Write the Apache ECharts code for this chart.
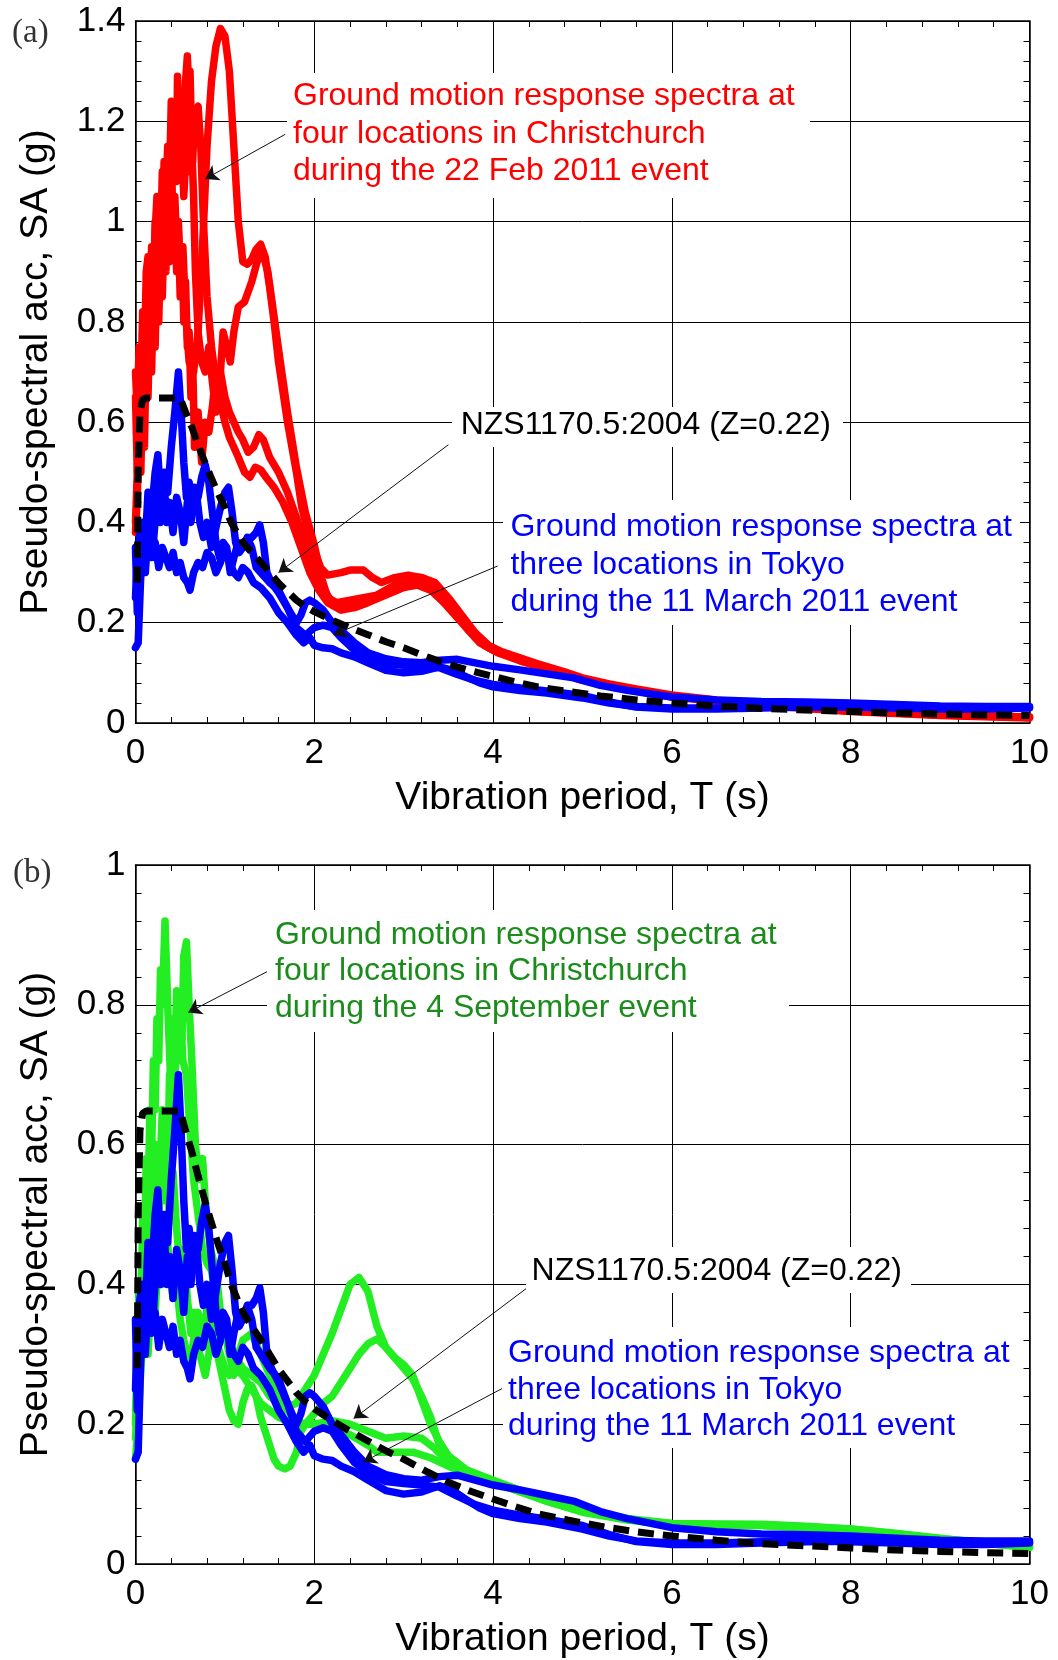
<!DOCTYPE html>
<html><head><meta charset="utf-8">
<script src="https://cdn.jsdelivr.net/npm/echarts@6/dist/echarts.min.js"></script>
<style>html,body{margin:0;padding:0;background:#fff}#c{width:1058px;height:1660px}</style>
</head><body><div id="c"></div>
<script>
// ---------- data: [period T (s), SA (g)] ----------
const xTicks = [0, 2, 4, 6, 8, 10];
const yTicksA = [0, 0.2, 0.4, 0.6, 0.8, 1, 1.2, 1.4];
const yTicksB = [0, 0.2, 0.4, 0.6, 0.8, 1];

const nzs = [[0.02,0.28],[0.03,0.5],[0.05,0.62],[0.08,0.645],[0.12,0.648],[0.5,0.648],[0.56,0.62],[0.63,0.59],[0.7,0.555],[0.78,0.518],[0.85,0.488],[0.92,0.459],[1.0,0.43],[1.07,0.40],[1.15,0.375],[1.22,0.356],[1.3,0.34],[1.41,0.319],[1.5,0.3],[1.6,0.279],[1.7,0.262],[1.8,0.245],[1.9,0.232],[2.0,0.222],[2.2,0.205],[2.4,0.19],[2.6,0.176],[2.8,0.162],[3.0,0.15],[3.26,0.132],[3.5,0.117],[3.75,0.104],[4.0,0.093],[4.25,0.082],[4.5,0.072],[4.83,0.063],[5.2,0.054],[5.6,0.046],[6,0.04],[6.5,0.034],[7,0.029],[7.5,0.026],[8,0.023],[8.5,0.02],[9,0.018],[9.5,0.016],[10,0.015]];

const chch2011a = [[0,0.40],[0.02,0.5],[0.04,0.62],[0.06,0.55],[0.08,0.72],[0.1,0.65],[0.12,0.85],[0.14,0.78],[0.16,0.92],[0.18,0.8],[0.2,0.95],[0.22,0.85],[0.24,1.0],[0.26,0.88],[0.28,1.05],[0.3,0.95],[0.32,1.08],[0.34,0.98],[0.36,1.1],[0.38,1.02],[0.4,1.12],[0.42,1.0],[0.44,1.05],[0.46,0.95],[0.48,1.0],[0.5,0.9],[0.53,0.95],[0.56,0.82],[0.6,0.72],[0.65,0.7],[0.7,0.78],[0.75,0.95],[0.8,1.15],[0.85,1.28],[0.9,1.35],[0.95,1.385],[1.0,1.37],[1.05,1.3],[1.1,1.15],[1.15,1.0],[1.2,0.92],[1.25,0.915],[1.3,0.925],[1.35,0.945],[1.4,0.955],[1.45,0.93],[1.5,0.87],[1.55,0.8],[1.6,0.72],[1.7,0.6],[1.8,0.5],[1.86,0.43],[1.93,0.38],[2.0,0.345],[2.07,0.31],[2.15,0.295],[2.3,0.3],[2.4,0.305],[2.55,0.305],[2.65,0.29],[2.75,0.28],[2.9,0.29],[3.05,0.295],[3.2,0.29],[3.35,0.28],[3.5,0.25],[3.65,0.215],[3.8,0.18],[3.95,0.155],[4.1,0.142],[4.3,0.13],[4.5,0.118],[4.8,0.102],[5.0,0.09],[5.3,0.078],[5.6,0.068],[6.0,0.056],[6.5,0.046],[7.0,0.038],[7.5,0.031],[8.0,0.025],[8.5,0.02],[9.0,0.017],[9.5,0.014],[10,0.012]];
const chch2011b = [[0,0.70],[0.02,0.62],[0.04,0.75],[0.06,0.62],[0.08,0.8],[0.1,0.72],[0.12,0.9],[0.14,0.93],[0.16,0.8],[0.18,0.88],[0.2,0.82],[0.22,0.98],[0.24,1.05],[0.26,0.95],[0.28,1.02],[0.3,0.98],[0.32,1.12],[0.34,1.05],[0.36,1.15],[0.38,1.08],[0.4,1.24],[0.42,1.15],[0.44,1.2],[0.46,1.12],[0.47,1.29],[0.49,1.18],[0.51,1.22],[0.53,1.1],[0.55,1.2],[0.56,1.28],[0.58,1.33],[0.6,1.25],[0.61,1.3],[0.63,1.15],[0.65,1.05],[0.67,0.9],[0.7,0.78],[0.74,0.72],[0.78,0.7],[0.82,0.75],[0.86,0.68],[0.9,0.62],[0.95,0.7],[0.98,0.78],[1.02,0.75],[1.06,0.72],[1.1,0.78],[1.15,0.83],[1.22,0.84],[1.3,0.88],[1.36,0.92],[1.42,0.94],[1.48,0.9],[1.55,0.81],[1.62,0.72],[1.7,0.62],[1.8,0.51],[1.9,0.42],[2.0,0.355],[2.08,0.29],[2.15,0.25],[2.25,0.24],[2.4,0.245],[2.55,0.25],[2.7,0.255],[2.9,0.275],[3.05,0.29],[3.2,0.29],[3.35,0.275],[3.5,0.245],[3.65,0.205],[3.8,0.17],[3.95,0.15],[4.2,0.134],[4.5,0.115],[4.8,0.1],[5.0,0.088],[5.5,0.068],[6.0,0.054],[6.5,0.045],[7,0.036],[8,0.024],[9,0.016],[10,0.011]];
const chch2011c = [[0,0.65],[0.02,0.5],[0.04,0.68],[0.06,0.6],[0.08,0.82],[0.1,0.75],[0.12,0.72],[0.14,0.88],[0.16,0.8],[0.18,0.95],[0.2,0.85],[0.22,1.0],[0.24,0.92],[0.26,1.05],[0.28,0.95],[0.3,1.1],[0.32,1.02],[0.34,1.08],[0.36,0.98],[0.38,1.15],[0.4,1.05],[0.42,1.2],[0.44,1.12],[0.46,1.08],[0.48,1.18],[0.5,1.1],[0.52,1.15],[0.54,1.05],[0.56,1.12],[0.58,1.18],[0.6,1.1],[0.62,1.16],[0.64,1.12],[0.66,1.22],[0.7,1.23],[0.73,1.15],[0.76,1.0],[0.8,0.85],[0.85,0.75],[0.9,0.68],[0.95,0.7],[1.0,0.65],[1.05,0.62],[1.1,0.6],[1.15,0.58],[1.2,0.565],[1.26,0.54],[1.32,0.55],[1.38,0.575],[1.43,0.565],[1.5,0.53],[1.6,0.5],[1.7,0.46],[1.8,0.41],[1.9,0.36],[2.0,0.31],[2.08,0.275],[2.2,0.24],[2.35,0.23],[2.5,0.235],[2.7,0.25],[2.9,0.265],[3.1,0.28],[3.25,0.275],[3.4,0.26],[3.55,0.23],[3.7,0.19],[3.85,0.16],[4.0,0.145],[4.3,0.125],[4.6,0.108],[5.0,0.085],[5.5,0.066],[6,0.052],[7,0.035],[8,0.023],[9,0.015],[10,0.01]];
const chch2011d = [[0,0.38],[0.02,0.45],[0.04,0.6],[0.06,0.5],[0.08,0.68],[0.1,0.55],[0.12,0.75],[0.14,0.65],[0.16,0.8],[0.18,0.7],[0.2,0.85],[0.22,0.75],[0.24,0.92],[0.26,0.8],[0.28,0.95],[0.3,0.85],[0.32,1.0],[0.34,0.9],[0.36,1.05],[0.38,0.92],[0.4,1.08],[0.42,0.95],[0.44,1.02],[0.46,0.9],[0.48,0.98],[0.5,0.85],[0.52,0.95],[0.54,0.8],[0.56,0.88],[0.58,0.75],[0.6,0.78],[0.62,0.65],[0.64,0.72],[0.66,0.55],[0.7,0.62],[0.74,0.52],[0.78,0.6],[0.82,0.58],[0.86,0.63],[0.9,0.7],[0.95,0.64],[1.0,0.6],[1.05,0.57],[1.1,0.55],[1.15,0.53],[1.22,0.5],[1.28,0.49],[1.34,0.51],[1.4,0.505],[1.46,0.49],[1.55,0.47],[1.65,0.44],[1.75,0.4],[1.85,0.35],[1.95,0.3],[2.05,0.265],[2.15,0.24],[2.3,0.225],[2.45,0.23],[2.6,0.24],[2.8,0.255],[3.0,0.27],[3.15,0.275],[3.3,0.265],[3.45,0.24],[3.6,0.21],[3.75,0.18],[3.9,0.155],[4.05,0.14],[4.3,0.124],[4.6,0.108],[5,0.088],[5.5,0.067],[6,0.053],[7,0.036],[8,0.024],[9,0.016],[10,0.012]];

const tokyoA = [[0,0.15],[0.03,0.16],[0.06,0.3],[0.09,0.38],[0.12,0.33],[0.16,0.42],[0.2,0.36],[0.24,0.45],[0.28,0.4],[0.32,0.5],[0.36,0.46],[0.4,0.55],[0.44,0.62],[0.48,0.70],[0.51,0.62],[0.54,0.52],[0.57,0.45],[0.6,0.48],[0.64,0.42],[0.68,0.46],[0.72,0.4],[0.76,0.37],[0.8,0.4],[0.85,0.35],[0.9,0.39],[0.95,0.43],[1.0,0.46],[1.04,0.47],[1.08,0.42],[1.12,0.36],[1.16,0.34],[1.2,0.35],[1.25,0.37],[1.3,0.35],[1.35,0.31],[1.4,0.3],[1.5,0.28],[1.6,0.265],[1.7,0.23],[1.8,0.2],[1.85,0.215],[1.9,0.24],[1.95,0.245],[2.0,0.24],[2.1,0.225],[2.2,0.2],[2.3,0.185],[2.45,0.16],[2.6,0.14],[2.8,0.128],[3.0,0.122],[3.2,0.12],[3.4,0.125],[3.6,0.127],[3.8,0.12],[4.0,0.113],[4.3,0.106],[4.6,0.098],[4.9,0.09],[5.2,0.075],[5.5,0.065],[6.0,0.052],[6.5,0.046],[7,0.043],[7.5,0.042],[8,0.04],[8.5,0.037],[9,0.034],[9.5,0.033],[10,0.033]];
const tokyoB = [[0,0.25],[0.02,0.33],[0.05,0.38],[0.08,0.4],[0.11,0.36],[0.14,0.46],[0.18,0.42],[0.22,0.5],[0.25,0.535],[0.28,0.45],[0.32,0.48],[0.35,0.4],[0.38,0.44],[0.42,0.38],[0.46,0.45],[0.5,0.42],[0.54,0.36],[0.58,0.44],[0.62,0.4],[0.66,0.47],[0.7,0.45],[0.74,0.49],[0.78,0.515],[0.82,0.48],[0.86,0.42],[0.9,0.36],[0.94,0.33],[0.98,0.36],[1.02,0.35],[1.06,0.3],[1.1,0.33],[1.15,0.36],[1.2,0.35],[1.26,0.37],[1.3,0.37],[1.35,0.38],[1.39,0.395],[1.43,0.36],[1.47,0.3],[1.52,0.28],[1.6,0.26],[1.7,0.23],[1.8,0.19],[1.9,0.175],[2.0,0.19],[2.1,0.195],[2.2,0.19],[2.3,0.17],[2.45,0.145],[2.6,0.13],[2.8,0.118],[3.0,0.115],[3.2,0.113],[3.4,0.11],[3.6,0.097],[3.8,0.085],[4.0,0.077],[4.3,0.07],[4.6,0.064],[5.0,0.055],[5.3,0.042],[5.6,0.032],[6.0,0.028],[6.5,0.028],[7,0.03],[7.5,0.032],[8,0.033],[8.5,0.031],[9,0.03],[9.5,0.03],[10,0.031]];
const tokyoC = [[0,0.35],[0.02,0.22],[0.05,0.28],[0.08,0.35],[0.11,0.3],[0.14,0.38],[0.18,0.33],[0.22,0.36],[0.26,0.31],[0.3,0.35],[0.34,0.33],[0.38,0.31],[0.42,0.34],[0.46,0.3],[0.5,0.32],[0.54,0.29],[0.58,0.28],[0.61,0.265],[0.65,0.3],[0.7,0.32],[0.75,0.31],[0.8,0.34],[0.85,0.33],[0.9,0.3],[0.95,0.32],[1.0,0.35],[1.05,0.32],[1.1,0.3],[1.15,0.29],[1.2,0.31],[1.26,0.3],[1.32,0.28],[1.4,0.27],[1.5,0.25],[1.6,0.22],[1.7,0.2],[1.8,0.175],[1.88,0.16],[1.95,0.17],[2.0,0.155],[2.1,0.15],[2.2,0.148],[2.3,0.14],[2.45,0.132],[2.6,0.12],[2.8,0.105],[3.0,0.1],[3.2,0.103],[3.4,0.112],[3.55,0.105],[3.7,0.092],[3.85,0.08],[4.0,0.072],[4.3,0.065],[4.6,0.06],[5.0,0.05],[5.3,0.04],[5.6,0.033],[6.0,0.03],[6.5,0.03],[7,0.032],[7.5,0.033],[8,0.032],[8.5,0.03],[9,0.028],[9.5,0.028],[10,0.03]];

const chch2010a = [[0,0.2],[0.02,0.28],[0.04,0.4],[0.06,0.35],[0.08,0.5],[0.1,0.45],[0.12,0.58],[0.14,0.5],[0.16,0.65],[0.18,0.58],[0.2,0.72],[0.22,0.65],[0.24,0.78],[0.26,0.72],[0.28,0.85],[0.3,0.8],[0.33,0.92],[0.36,0.8],[0.39,0.7],[0.42,0.78],[0.44,0.72],[0.46,0.82],[0.48,0.76],[0.5,0.8],[0.53,0.72],[0.57,0.7],[0.61,0.62],[0.65,0.55],[0.7,0.5],[0.75,0.45],[0.8,0.43],[0.85,0.42],[0.9,0.38],[0.95,0.35],[1.0,0.34],[1.05,0.32],[1.1,0.3],[1.2,0.28],[1.3,0.27],[1.4,0.26],[1.5,0.24],[1.6,0.23],[1.7,0.225],[1.8,0.23],[1.9,0.25],[2.0,0.27],[2.1,0.3],[2.2,0.33],[2.3,0.365],[2.4,0.4],[2.5,0.41],[2.6,0.39],[2.7,0.34],[2.8,0.31],[2.9,0.295],[3.0,0.285],[3.1,0.27],[3.2,0.235],[3.3,0.2],[3.4,0.175],[3.5,0.155],[3.7,0.135],[3.9,0.125],[4.2,0.11],[4.6,0.09],[5.0,0.075],[5.5,0.064],[6,0.058],[6.5,0.057],[7,0.057],[7.5,0.054],[8,0.05],[8.5,0.044],[9,0.037],[9.5,0.03],[10,0.025]];
const chch2010b = [[0,0.18],[0.03,0.25],[0.06,0.35],[0.1,0.42],[0.14,0.38],[0.18,0.48],[0.22,0.55],[0.26,0.5],[0.3,0.6],[0.32,0.52],[0.34,0.62],[0.36,0.55],[0.38,0.7],[0.4,0.65],[0.42,0.75],[0.44,0.68],[0.46,0.78],[0.48,0.72],[0.5,0.8],[0.52,0.75],[0.54,0.87],[0.57,0.89],[0.6,0.8],[0.63,0.72],[0.67,0.6],[0.71,0.55],[0.75,0.58],[0.79,0.5],[0.84,0.45],[0.9,0.42],[0.95,0.36],[1.0,0.33],[1.05,0.3],[1.1,0.27],[1.15,0.3],[1.2,0.32],[1.3,0.33],[1.4,0.3],[1.5,0.27],[1.6,0.24],[1.7,0.22],[1.8,0.205],[1.9,0.2],[2.0,0.215],[2.1,0.23],[2.2,0.24],[2.35,0.27],[2.5,0.3],[2.6,0.315],[2.7,0.322],[2.8,0.31],[2.9,0.295],[3.0,0.28],[3.1,0.265],[3.2,0.24],[3.3,0.21],[3.4,0.17],[3.5,0.15],[3.7,0.132],[3.9,0.122],[4.2,0.108],[4.6,0.09],[5,0.074],[5.5,0.063],[6,0.056],[7,0.055],[8,0.048],[9,0.035],[10,0.024]];
const chch2010c = [[0,0.22],[0.03,0.3],[0.06,0.4],[0.1,0.48],[0.14,0.45],[0.18,0.55],[0.22,0.6],[0.26,0.52],[0.3,0.65],[0.34,0.58],[0.38,0.5],[0.42,0.56],[0.46,0.48],[0.5,0.42],[0.54,0.45],[0.58,0.38],[0.62,0.33],[0.66,0.36],[0.7,0.31],[0.74,0.29],[0.78,0.27],[0.82,0.3],[0.86,0.34],[0.9,0.31],[0.95,0.28],[1.0,0.25],[1.05,0.22],[1.1,0.205],[1.15,0.2],[1.2,0.23],[1.25,0.25],[1.3,0.255],[1.35,0.24],[1.4,0.21],[1.45,0.19],[1.5,0.17],[1.55,0.15],[1.6,0.14],[1.67,0.136],[1.73,0.14],[1.8,0.16],[1.85,0.19],[1.9,0.2],[2.0,0.2],[2.2,0.205],[2.4,0.2],[2.6,0.19],[2.8,0.18],[3.0,0.183],[3.2,0.18],[3.35,0.165],[3.5,0.145],[3.7,0.13],[3.9,0.122],[4.2,0.11],[4.6,0.092],[5,0.076],[5.5,0.065],[6,0.058],[7,0.056],[8,0.05],[9,0.036],[10,0.025]];
const chch2010d = [[0,0.15],[0.03,0.2],[0.06,0.28],[0.1,0.35],[0.14,0.3],[0.18,0.4],[0.22,0.36],[0.26,0.45],[0.3,0.4],[0.34,0.5],[0.38,0.42],[0.42,0.38],[0.46,0.4],[0.5,0.35],[0.54,0.32],[0.58,0.3],[0.62,0.29],[0.66,0.33],[0.7,0.36],[0.74,0.33],[0.78,0.35],[0.82,0.38],[0.86,0.35],[0.9,0.32],[0.95,0.3],[1.0,0.28],[1.05,0.27],[1.1,0.28],[1.2,0.27],[1.3,0.25],[1.4,0.23],[1.5,0.22],[1.6,0.21],[1.7,0.205],[1.8,0.2],[1.9,0.2],[2.0,0.2],[2.2,0.195],[2.4,0.185],[2.6,0.17],[2.7,0.16],[2.9,0.16],[3.1,0.16],[3.3,0.152],[3.5,0.14],[3.7,0.128],[3.9,0.12],[4.2,0.108],[4.6,0.09],[5,0.075],[5.5,0.064],[6,0.057],[7,0.055],[8,0.049],[9,0.035],[10,0.024]];

// annotation arrows: [fromT, fromSA, toT, toSA]
const arrowsA = [[1.675,1.174,0.78,1.085],[3.50,0.555,1.60,0.30],[4.05,0.313,2.216,0.176]];
const arrowsB = [[1.526,0.851,0.59,0.789],[4.38,0.395,2.44,0.208],[4.10,0.251,2.55,0.146]];

// ---------- styling ----------
const FONT = '"Liberation Sans", Arial, sans-serif';
const RED = '#ff0000', BLUE = '#0000ff', GREEN = '#22ee22', GREEN_TXT = '#1a8c1a';
const LW = 7.5;

function axes(gi, ymax) {
  const common = {
    gridIndex: gi, type: 'value', min: 0,
    axisLine: { show: true, onZero: false, lineStyle: { color: '#000', width: 1.5 } },
    axisTick: { show: true, inside: true, length: 8, lineStyle: { color: '#000', width: 1 } },
    minorTick: { show: true, splitNumber: 5, length: 6, lineStyle: { color: '#000', width: 1 } },
  };
  const xb = Object.assign({}, common, {
    max: 10, interval: 2, position: 'bottom',
    splitLine: { show: true, lineStyle: { color: '#000', width: 1 } },
    axisLabel: { fontSize: 35, color: '#000', fontFamily: FONT, margin: 13 },
    name: 'Vibration period, T (s)', nameLocation: 'middle', nameGap: 56,
    nameTextStyle: { fontSize: 39, color: '#000', fontFamily: FONT }
  });
  const xt = Object.assign({}, common, {
    max: 10, interval: 2, position: 'top',
    splitLine: { show: false }, axisLabel: { show: false }
  });
  const yl = Object.assign({}, common, {
    max: ymax, interval: 0.2, position: 'left',
    splitLine: { show: true, lineStyle: { color: '#000', width: 1 } },
    axisLabel: { fontSize: 35, color: '#000', fontFamily: FONT, margin: 10 },
    name: 'Pseudo-spectral acc, SA (g)', nameLocation: 'middle', nameGap: 80, nameRotate: 90,
    nameTextStyle: { fontSize: 39, color: '#000', fontFamily: FONT }
  });
  const yr = Object.assign({}, common, {
    max: ymax, interval: 0.2, position: 'right',
    splitLine: { show: false }, axisLabel: { show: false }
  });
  return { x: [xb, xt], y: [yl, yr] };
}
const A = axes(0, 1.4), B = axes(1, 1.0);

function line(data, color, xi, yi, z) {
  return { type: 'line', data, xAxisIndex: xi, yAxisIndex: yi, symbol: 'none', showSymbol: false,
    silent: true, animation: false, z,
    lineStyle: { color, width: LW, cap: 'round', join: 'round' }, itemStyle: { color } };
}
function dashed(xi, yi, arrows) {
  return { type: 'line', data: nzs, xAxisIndex: xi, yAxisIndex: yi, symbol: 'none', showSymbol: false,
    silent: true, animation: false, z: 5,
    lineStyle: { color: '#000', width: 7, type: [16, 9] }, itemStyle: { color: '#000' },
    markLine: { silent: true, animation: false, symbol: ['none', 'arrow'], symbolSize: 13,
      label: { show: false }, emphasis: { disabled: true },
      lineStyle: { color: '#111', width: 1, type: 'solid' }, itemStyle: { color: '#111' },
      data: arrows.map(a => [{ coord: [a[0], a[1]] }, { coord: [a[2], a[3]] }]) } };
}

function box(x, y, w, h) {
  return { type: 'rect', shape: { x, y, width: w, height: h }, style: { fill: '#fff' }, z: 100, silent: true };
}
function txt(x, y, text, fill, lh) {
  return { type: 'text', x, y, z: 101, silent: true,
    style: { text, fill, font: '32px ' + FONT, lineHeight: lh, verticalAlign: 'top', align: 'left' } };
}

const option = {
  backgroundColor: '#fff',
  animation: false,
  grid: [
    { left: 135.5, right: 28.5, top: 21, height: 702 },
    { left: 135.5, right: 28.5, top: 865, height: 700 }
  ],
  xAxis: [A.x[0], A.x[1], B.x[0], B.x[1]],
  yAxis: [A.y[0], A.y[1], B.y[0], B.y[1]],
  series: [
    line(chch2011a, RED, 0, 0, 2), line(chch2011b, RED, 0, 0, 2),
    line(chch2011c, RED, 0, 0, 2), line(chch2011d, RED, 0, 0, 2),
    line(tokyoA, BLUE, 0, 0, 3), line(tokyoB, BLUE, 0, 0, 3), line(tokyoC, BLUE, 0, 0, 3),
    dashed(0, 0, arrowsA),
    line(chch2010a, GREEN, 2, 2, 2), line(chch2010b, GREEN, 2, 2, 2),
    line(chch2010c, GREEN, 2, 2, 2), line(chch2010d, GREEN, 2, 2, 2),
    line(tokyoA, BLUE, 2, 2, 3), line(tokyoB, BLUE, 2, 2, 3), line(tokyoC, BLUE, 2, 2, 3),
    dashed(2, 2, arrowsB)
  ],
  graphic: [
    { type: 'text', x: 12, y: 33, z: 101, style: { text: '(a)', fill: '#333', font: '33px "Liberation Serif", serif', verticalAlign: 'middle' } },
    { type: 'text', x: 13, y: 873, z: 101, style: { text: '(b)', fill: '#333', font: '33px "Liberation Serif", serif', verticalAlign: 'middle' } },
    box(287, 73, 523, 125),
    txt(293, 77.6, 'Ground motion response spectra at\nfour locations in Christchurch\nduring the 22 Feb 2011 event', RED, 37.6),
    box(452, 407, 391, 40),
    txt(460.7, 406, 'NZS1170.5:2004 (Z=0.22)', '#000', 38),
    box(503, 500, 517, 125),
    txt(510.4, 508, 'Ground motion response spectra at\nthree locations in Tokyo\nduring the 11 March 2011 event', BLUE, 37.8),
    box(267, 910, 522, 122),
    txt(275, 916.75, 'Ground motion response spectra at\nfour locations in Christchurch\nduring the 4 September event', GREEN_TXT, 36.5),
    box(526, 1247, 385, 46),
    txt(531.6, 1252, 'NZS1170.5:2004 (Z=0.22)', '#000', 38),
    box(503, 1327, 517, 121),
    txt(508, 1334.6, 'Ground motion response spectra at\nthree locations in Tokyo\nduring the 11 March 2011 event', BLUE, 36.75)
  ]
};
const chart = echarts.init(document.getElementById('c'), null, { renderer: 'canvas' });
chart.setOption(option);
</script></body></html>
